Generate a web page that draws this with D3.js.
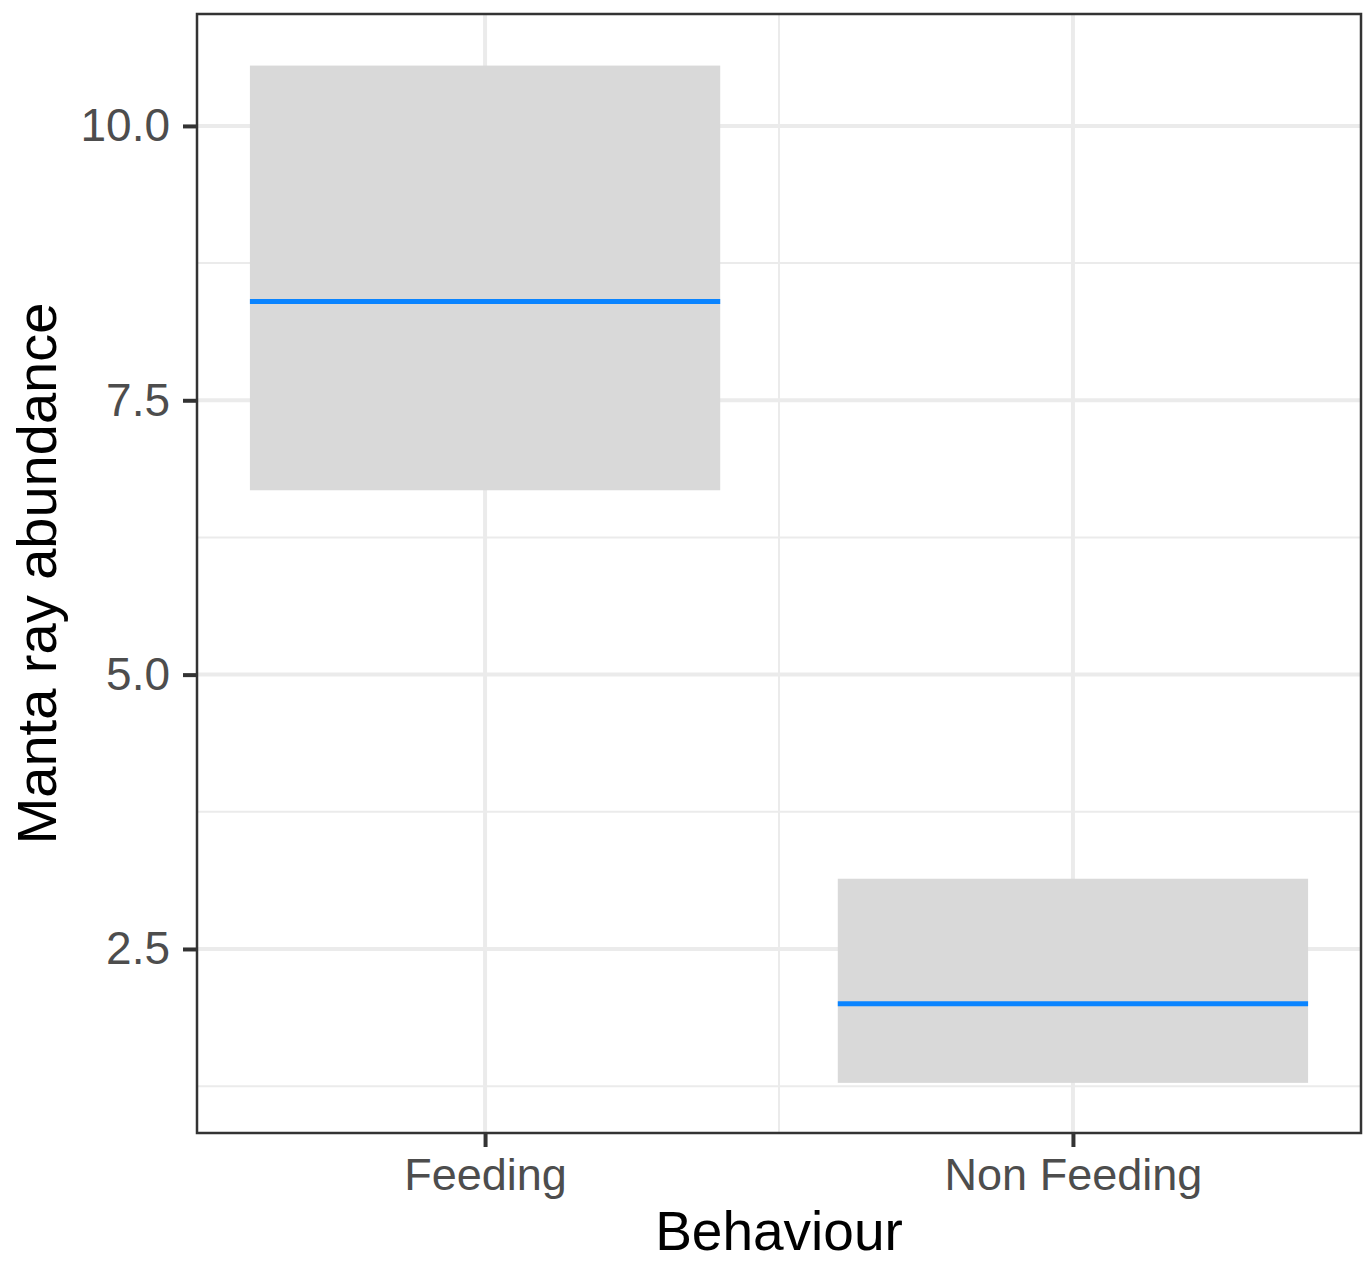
<!DOCTYPE html>
<html>
<head>
<meta charset="utf-8">
<script src="https://cdn.jsdelivr.net/npm/d3@7"></script>
<style>
  html, body { margin: 0; padding: 0; background: #fff; }
  svg { display: block; }
</style>
</head>
<body>
<svg id="chart" width="1363" height="1263"></svg>
<script>
const categories = ["Feeding", "Non Feeding"];
const meanValues = [8.40, 2.00];
const lowerValues = [6.68, 1.28];
const upperValues = [10.55, 3.14];
const yTicks = [2.5, 5.0, 7.5, 10.0];
const yMinorTicks = [1.25, 3.75, 6.25, 8.75];
const xTitle = "Behaviour";
const yTitle = "Manta ray abundance";

const svg = d3.select("#chart");
const panel = { left: 197, right: 1361, top: 14, bottom: 1133 };
const font = "'Liberation Sans', Arial, Helvetica, sans-serif";

const x = d3.scaleLinear().domain([0.51, 2.49]).range([panel.left, panel.right]);
const y = d3.scaleLinear().domain([0.823, 11.02]).range([panel.bottom, panel.top]);
const boxHalf = 0.4;

svg.append("rect").attr("x", panel.left).attr("y", panel.top)
  .attr("width", panel.right - panel.left).attr("height", panel.bottom - panel.top)
  .attr("fill", "#fff");

const grid = svg.append("g");
grid.selectAll(".ymin").data(yMinorTicks).enter().append("line")
  .attr("x1", panel.left).attr("x2", panel.right)
  .attr("y1", d => y(d)).attr("y2", d => y(d))
  .attr("stroke", "#EBEBEB").attr("stroke-width", 2);
grid.append("line")
  .attr("x1", x(1.5)).attr("x2", x(1.5))
  .attr("y1", panel.top).attr("y2", panel.bottom)
  .attr("stroke", "#EBEBEB").attr("stroke-width", 2);
grid.selectAll(".ymaj").data(yTicks).enter().append("line")
  .attr("x1", panel.left).attr("x2", panel.right)
  .attr("y1", d => y(d)).attr("y2", d => y(d))
  .attr("stroke", "#EBEBEB").attr("stroke-width", 4);
grid.selectAll(".xmaj").data(categories).enter().append("line")
  .attr("x1", (d, i) => x(i + 1)).attr("x2", (d, i) => x(i + 1))
  .attr("y1", panel.top).attr("y2", panel.bottom)
  .attr("stroke", "#EBEBEB").attr("stroke-width", 4);

const marks = svg.append("g");
categories.forEach((c, i) => {
  marks.append("rect")
    .attr("x", x(i + 1 - boxHalf))
    .attr("y", y(upperValues[i]))
    .attr("width", x(i + 1 + boxHalf) - x(i + 1 - boxHalf))
    .attr("height", y(lowerValues[i]) - y(upperValues[i]))
    .attr("fill", "#D9D9D9");
  marks.append("line")
    .attr("x1", x(i + 1 - boxHalf)).attr("x2", x(i + 1 + boxHalf))
    .attr("y1", y(meanValues[i])).attr("y2", y(meanValues[i]))
    .attr("stroke", "#0A84FF").attr("stroke-width", 5);
});

svg.append("rect").attr("x", panel.left).attr("y", panel.top)
  .attr("width", panel.right - panel.left).attr("height", panel.bottom - panel.top)
  .attr("fill", "none").attr("stroke", "#333333").attr("stroke-width", 2.5);

const yAxis = d3.axisLeft(y).tickValues(yTicks).tickFormat(d3.format(".1f")).tickSizeOuter(0).tickSize(14).tickPadding(13);
const gy = svg.append("g").attr("transform", `translate(${panel.left},0)`).call(yAxis);
gy.select(".domain").remove();
gy.selectAll(".tick line").attr("stroke", "#333333").attr("stroke-width", 4);
gy.selectAll(".tick text").attr("fill", "#4D4D4D").attr("font-size", 46).attr("font-family", font);

const xAxis = d3.axisBottom(x).tickValues([1, 2]).tickFormat(d => categories[d - 1]).tickSizeOuter(0).tickSize(14).tickPadding(11);
const gx = svg.append("g").attr("transform", `translate(0,${panel.bottom})`).call(xAxis);
gx.select(".domain").remove();
gx.selectAll(".tick line").attr("stroke", "#333333").attr("stroke-width", 4);
gx.selectAll(".tick text").attr("fill", "#4D4D4D").attr("font-size", 45).attr("font-family", font);

svg.append("text").attr("x", (panel.left + panel.right) / 2).attr("y", 1250)
  .attr("text-anchor", "middle").attr("font-size", 55).attr("font-family", font)
  .attr("fill", "#000").text(xTitle);
svg.append("text")
  .attr("transform", `translate(56,${(panel.top + panel.bottom) / 2}) rotate(-90)`)
  .attr("text-anchor", "middle").attr("font-size", 56).attr("font-family", font)
  .attr("fill", "#000").text(yTitle);
</script>
</body>
</html>
